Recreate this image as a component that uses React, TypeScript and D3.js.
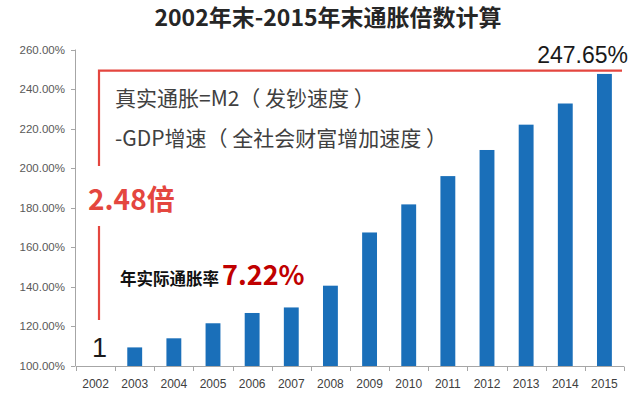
import React from "react";
import * as d3 from "d3";

const years = ["2002","2003","2004","2005","2006","2007","2008","2009","2010","2011","2012","2013","2014","2015"];
const values = [100, 109.4, 114.0, 121.6, 126.8, 129.6, 140.6, 167.5, 181.7, 196.0, 209.2, 222.0, 232.7, 247.65];
const yTicks = [100, 120, 140, 160, 180, 200, 220, 240, 260];
const title = "2002年末-2015年末通胀倍数计算";
const note1 = "真实通胀=M2（ 发钞速度 ）";
const note2 = "-GDP增速（ 全社会财富增加速度 ）";
const multLabel = "2.48倍";
const rateLabel = "年实际通胀率";
const rateValue = "7.22%";
const endLabel = "247.65%";
const baseLabel = "1";

const W = 640, H = 398;
const CJK = "'Noto Sans CJK SC', 'Noto Sans', sans-serif";
const LAT = "'Liberation Sans', 'DejaVu Sans', sans-serif";

export default function App() {
  const x = d3.scaleBand<string>().domain(years).range([76, 624]).paddingInner(0.62).paddingOuter(0.31);
  const y = d3.scaleLinear().domain([100, 260]).range([366, 49.5]);
  const step = x.step();
  const axisColor = "#a6a6a6";
  const red = "#e4463f";
  const lineY = y(249.3);
  const lineX = 99;

  return (
    <svg width={W} height={H} style={{ position: "absolute", left: 0, top: 0, background: "#fff" }}>
      <text x={328} y={26} textAnchor="middle" fontFamily={CJK} fontWeight={700} fontSize={23} fill="#262626">{title}</text>

      {/* y axis */}
      <line x1={75.5} x2={75.5} y1={y(260)} y2={y(100)} stroke={axisColor} />
      {yTicks.map(t => (
        <g key={t}>
          <line x1={71} x2={75.5} y1={Math.round(y(t)) + 0.5} y2={Math.round(y(t)) + 0.5} stroke={axisColor} />
          <text x={65} y={y(t) + 4} textAnchor="end" fontFamily={LAT} fontSize={11.5} fill="#595959">{t.toFixed(2)}%</text>
        </g>
      ))}

      {/* bars */}
      {years.map((yr, i) => (
        <rect key={yr} x={x(yr)} y={y(values[i])} width={x.bandwidth()} height={y(100) - y(values[i])} fill="#1a6fb9" />
      ))}

      {/* x axis */}
      <line x1={76} x2={624} y1={366.5} y2={366.5} stroke={axisColor} />
      {d3.range(years.length + 1).map(i => (
        <line key={i} x1={Math.round(76 + i * step) + 0.5} x2={Math.round(76 + i * step) + 0.5} y1={366.5} y2={371} stroke={axisColor} />
      ))}
      {years.map(yr => (
        <text key={yr} x={(x(yr) as number) + x.bandwidth() / 2} y={388} textAnchor="middle" fontFamily={LAT} fontSize={12} fill="#404040">{yr}</text>
      ))}

      {/* red annotation */}
      <path d={`M${lineX},166 V${lineY} H622`} fill="none" stroke={red} strokeWidth={2.2} />
      <path d={`M${lineX},226 V320`} fill="none" stroke={red} strokeWidth={2.2} />

      <text x={88} y={210} fontFamily={CJK} fontWeight={700} fontSize={28} fill={red}>{multLabel}</text>
      <text x={115} y={106} fontFamily={CJK} fontSize={21} fill="#404040" xmlSpace="preserve">{note1}</text>
      <text x={115} y={146} fontFamily={CJK} fontSize={21} fill="#404040" xmlSpace="preserve">{note2}</text>

      <text x={120} y={285} fontFamily={CJK} fontWeight={700} fontSize={16.5} fill="#111">{rateLabel}</text>
      <text x={222} y={285} fontFamily={CJK} fontWeight={700} fontSize={27} fill="#c00000">{rateValue}</text>

      <text x={628} y={63} textAnchor="end" fontFamily={LAT} fontSize={23} fill="#1a1a1a">{endLabel}</text>
      <text x={(x("2002") as number) + x.bandwidth() / 2 + 4} y={357} textAnchor="middle" fontFamily={LAT} fontSize={27} fill="#1a1a1a">{baseLabel}</text>
    </svg>
  );
}
